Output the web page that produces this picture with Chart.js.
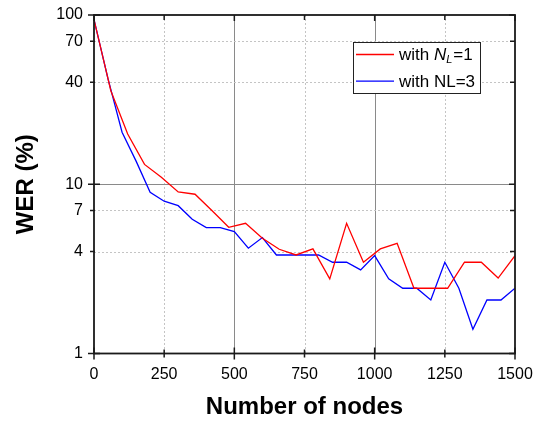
<!DOCTYPE html>
<html><head><meta charset="utf-8">
<script src="https://cdn.jsdelivr.net/npm/chart.js@4"></script>
<style>html,body{margin:0;padding:0;background:#fff}#wrap{width:535px;height:421px;position:relative}</style>
</head><body><div id="wrap"><canvas id="c" width="535" height="421"></canvas></div>
<script>
// ---- data ----
const seriesNames = ["with N_L=1", "with NL=3"];
const redNodes = [0,60,120,180,240,300,360,420,480,540,600,660,720,780,840,900,960,1020,1080,1140,1200,1260,1320,1380,1440,1500];
const redWER   = [94,35.7,19.8,13.1,11.0,9.0,8.73,6.99,5.57,5.88,4.8,4.13,3.82,4.15,2.76,5.88,3.46,4.15,4.48,2.43,2.43,2.43,3.46,3.46,2.79,3.79];
const blueNodes = [0,50,100,150,200,250,300,350,400,450,500,550,600,650,700,750,800,850,900,950,1000,1050,1100,1150,1200,1250,1300,1350,1400,1450,1500];
const blueWER   = [94,41.9,20.3,13.7,8.97,7.94,7.47,6.21,5.54,5.54,5.25,4.19,4.84,3.82,3.82,3.82,3.82,3.46,3.46,3.12,3.79,2.76,2.43,2.43,2.07,3.46,2.43,1.39,2.07,2.07,2.43];
const xTicks = [0,250,500,750,1000,1250,1500];
const xMajor = [0,500,1000,1500];
const yTicks = [1,4,7,10,40,70,100];
const yMajor = [1,10,100];
const xTitle = "Number of nodes";
const yTitle = "WER (%)";

const FAM = "'Liberation Sans', Arial, Helvetica, sans-serif";

const gridPlugin = {
  id: 'gridPlugin',
  beforeDatasetsDraw(chart) {
    const {ctx, chartArea: a, scales: {x, y}} = chart;
    ctx.save();
    ctx.lineWidth = 1;
    xTicks.forEach(v => {
      if (v === 0 || v === 1500) return;
      const px = Math.round(x.getPixelForValue(v)) + 0.5;
      const major = xMajor.includes(v);
      ctx.strokeStyle = major ? '#8a8a8a' : '#c4c4c4';
      ctx.setLineDash(major ? [] : [2, 2]);
      ctx.beginPath(); ctx.moveTo(px, a.top); ctx.lineTo(px, a.bottom); ctx.stroke();
    });
    yTicks.forEach(v => {
      if (v === 1 || v === 100) return;
      const py = Math.round(y.getPixelForValue(v)) + 0.5;
      const major = yMajor.includes(v);
      ctx.strokeStyle = major ? '#8a8a8a' : '#c4c4c4';
      ctx.setLineDash(major ? [] : [2, 2]);
      ctx.beginPath(); ctx.moveTo(a.left, py); ctx.lineTo(a.right, py); ctx.stroke();
    });
    ctx.restore();
  }
};

const framePlugin = {
  id: 'framePlugin',
  afterDatasetsDraw(chart) {
    const {ctx, chartArea: a, scales: {x, y}} = chart;
    ctx.save();
    ctx.strokeStyle = '#1a1a1a';
    ctx.lineWidth = 1.8;
    ctx.setLineDash([]);
    ctx.strokeRect(a.left, a.top, a.right - a.left, a.bottom - a.top);
    ctx.lineWidth = 1.5;
    xTicks.forEach(v => {
      const px = x.getPixelForValue(v);
      const major = xMajor.includes(v);
      const d = major ? 6 : 4;
      ctx.beginPath();
      ctx.moveTo(px, a.bottom - d); ctx.lineTo(px, a.bottom + d);
      ctx.moveTo(px, a.top); ctx.lineTo(px, a.top + (major ? 6 : 5));
      ctx.stroke();
    });
    yTicks.forEach(v => {
      const py = y.getPixelForValue(v);
      const major = yMajor.includes(v);
      ctx.beginPath();
      if (major) { ctx.moveTo(a.left - 6, py); ctx.lineTo(a.left + 6, py); }
      else { ctx.moveTo(a.left - 4, py); ctx.lineTo(a.left + 1, py); }
      ctx.moveTo(a.right, py); ctx.lineTo(a.right - (major ? 6 : 5), py);
      ctx.stroke();
    });
    ctx.restore();
  }
};

const legendPlugin = {
  id: 'legendPlugin',
  afterDraw(chart) {
    const {ctx, chartArea: a} = chart;
    const bx = a.right - 162, by = a.top + 27, bw = 127, bh = 51;
    ctx.save();
    ctx.fillStyle = '#fff';
    ctx.fillRect(bx, by, bw, bh);
    ctx.strokeStyle = '#222';
    ctx.lineWidth = 1;
    ctx.strokeRect(bx + 0.5, by + 0.5, bw, bh);
    chart.data.datasets.forEach((ds, i) => {
      const ly = by + 12.5 + i * 26.7;
      ctx.strokeStyle = ds.borderColor;
      ctx.lineWidth = 1.3;
      ctx.beginPath(); ctx.moveTo(bx + 3, ly); ctx.lineTo(bx + 41, ly); ctx.stroke();
      ctx.fillStyle = '#000';
      ctx.textBaseline = 'middle';
      let tx = bx + 46;
      const label = ds.label;
      const parts = label.split('N_L');
      const normal = '17px ' + FAM;
      ctx.font = normal;
      if (parts.length === 2) {
        ctx.fillText(parts[0], tx, ly + 1); tx += ctx.measureText(parts[0]).width;
        ctx.font = 'italic 17px ' + FAM;
        ctx.fillText('N', tx, ly + 1); tx += ctx.measureText('N').width;
        ctx.font = 'italic 11px ' + FAM;
        ctx.fillText('L', tx, ly + 5); tx += ctx.measureText('L').width + 1;
        ctx.font = normal;
        ctx.fillText(parts[1], tx, ly + 1);
      } else {
        ctx.fillText(label, tx, ly + 1);
      }
    });
    ctx.restore();
  }
};

function zeroPad(s) { s.paddingLeft = 0; s.paddingRight = 0; s.paddingTop = 0; s.paddingBottom = 0; }

new Chart(document.getElementById('c'), {
  type: 'line',
  data: {
    datasets: [
      { label: seriesNames[0], data: redNodes.map((v, i) => ({x: v, y: redWER[i]})),
        borderColor: '#ff0000', borderWidth: 1.3, pointRadius: 0, tension: 0, fill: false },
      { label: seriesNames[1], data: blueNodes.map((v, i) => ({x: v, y: blueWER[i]})),
        borderColor: '#0000ff', borderWidth: 1.3, pointRadius: 0, tension: 0, fill: false }
    ]
  },
  options: {
    responsive: false, animation: false, devicePixelRatio: 1,
    layout: { padding: { top: 15, right: 20, left: 0, bottom: 0 } },
    plugins: { legend: { display: false }, tooltip: { enabled: false } },
    scales: {
      x: {
        type: 'linear', min: 0, max: 1500,
        afterBuildTicks: s => { s.ticks = xTicks.map(v => ({value: v})); },
        afterFit: s => { s.height = 67.5; zeroPad(s); },
        grid: { display: false, drawTicks: false }, border: { display: false },
        ticks: { font: { family: FAM, size: 16 }, color: '#000', padding: 11, maxRotation: 0, autoSkip: false, callback: v => String(v) },
        title: { display: true, text: xTitle, color: '#000', font: { family: FAM, size: 24, weight: 'bold', lineHeight: 1.1 }, padding: { top: 0, bottom: 0 } }
      },
      y: {
        type: 'logarithmic', min: 1, max: 100,
        afterBuildTicks: s => { s.ticks = yTicks.map(v => ({value: v})); },
        afterFit: s => { s.width = 94; zeroPad(s); },
        grid: { display: false, drawTicks: false }, border: { display: false },
        ticks: { font: { family: FAM, size: 16 }, color: '#000', padding: 11, autoSkip: false, callback: v => String(v) },
        title: { display: true, text: yTitle, color: '#000', font: { family: FAM, size: 24, weight: 'bold' }, padding: { top: 12, bottom: 0 } }
      }
    }
  },
  plugins: [gridPlugin, framePlugin, legendPlugin]
});
</script>
</body></html>
